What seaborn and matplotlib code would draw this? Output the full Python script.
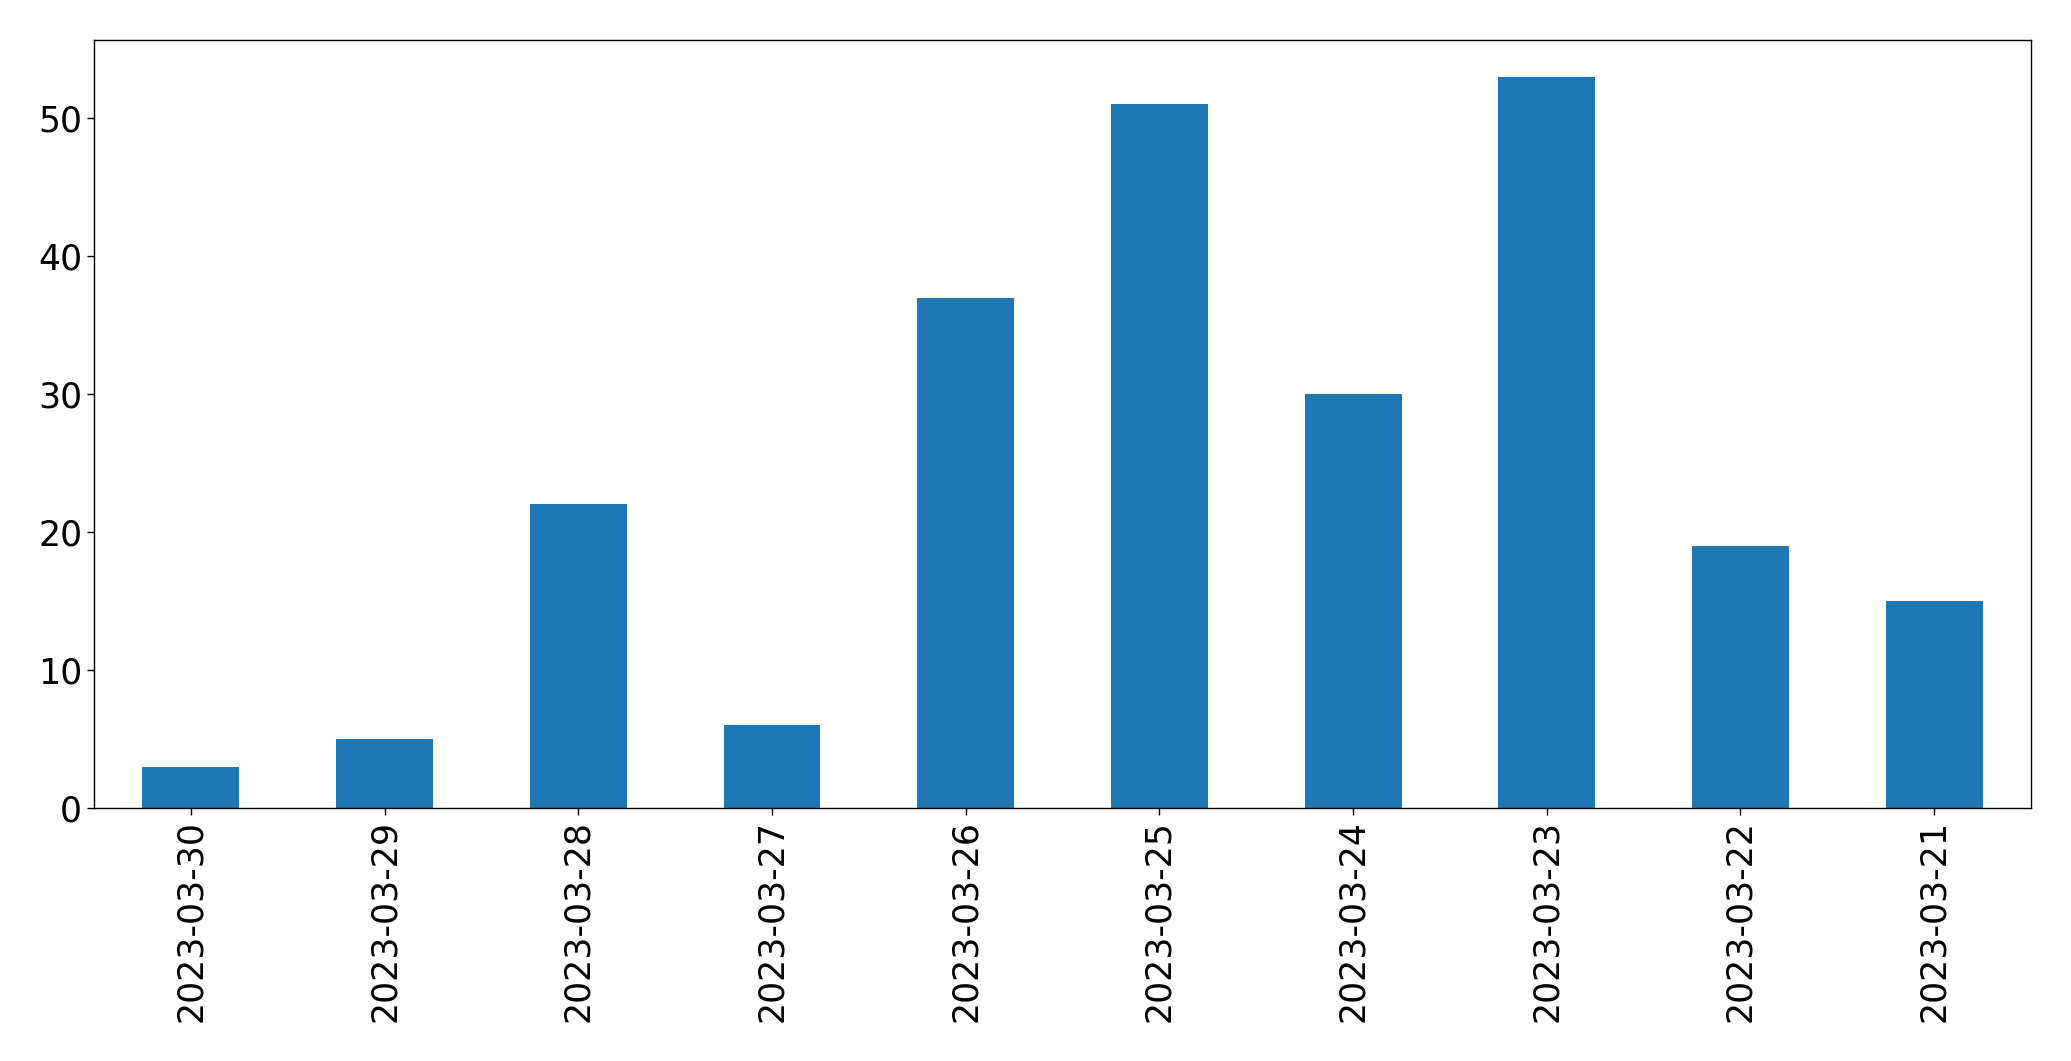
import matplotlib
matplotlib.use("Agg")
import matplotlib.pyplot as plt
import seaborn as sns
import pandas as pd

# datos
fechas = ['2023-03-30', '2023-03-29', '2023-03-28', '2023-03-27', '2023-03-26',
          '2023-03-25', '2023-03-24', '2023-03-23', '2023-03-22', '2023-03-21']
conteos = [3, 5, 22, 6, 37, 51, 30, 53, 19, 15]

df = pd.DataFrame({'fecha': fechas, 'conteo': conteos})

sns.set_style("white")
plt.rcParams['font.family'] = ['DejaVu Sans']
plt.rcParams['text.color'] = 'black'
plt.rcParams['xtick.color'] = 'black'
plt.rcParams['ytick.color'] = 'black'

fig = plt.figure(figsize=(20.71, 10.61), dpi=100)
ax = fig.add_axes([0.0454, 0.2385, 0.9353, 0.7235])

sns.barplot(data=df, x='fecha', y='conteo', color='#1f77b4', saturation=1,
            width=0.5, linewidth=0, ax=ax)

ax.set_xlim(-0.5, len(fechas) - 0.5)
ax.set_ylim(0, max(conteos) * 1.05)
ax.set_xlabel('')
ax.set_ylabel('')
ax.tick_params(axis='x', labelrotation=90, labelsize=25, length=5, width=1,
               bottom=True, colors='black')
ax.tick_params(axis='y', labelsize=25, length=5, width=1, left=True, colors='black')
for s in ax.spines.values():
    s.set_color('black')
    s.set_linewidth(1)

fig.savefig('out.png', dpi=100)
